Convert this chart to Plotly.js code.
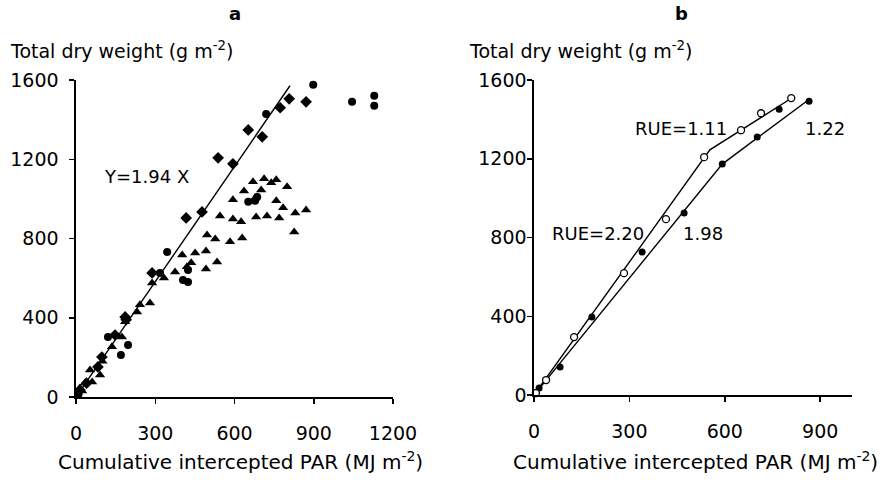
<!DOCTYPE html>
<html>
<head>
<meta charset="utf-8">
<script src="https://cdn.plot.ly/plotly-3.0.1.min.js"></script>
<style>html,body{margin:0;padding:0;background:#fff;}#chart{width:888px;height:482px;}</style>
</head>
<body>
<div id="chart"></div>
<script>
// ---- Panel a data ----
const aDiamondX = [652, 538, 594, 477, 417, 705, 773, 807, 871, 288, 186, 148, 98, 83, 40, 15, 190];
const aDiamondY = [1348, 1207, 1177, 934, 904, 1313, 1460, 1505, 1490, 626, 404, 313, 202, 152, 70, 35, 390];

const aCircleX = [898, 1045, 1129, 1129, 720, 652, 678, 686, 345, 424, 405, 424, 318, 121, 197, 170, 10];
const aCircleY = [1576, 1490, 1520, 1470, 1429, 985, 990, 1010, 732, 641, 591, 581, 626, 303, 263, 212, 15];

const aTriX = [670, 712, 739, 758, 799, 636, 701, 594, 758, 678, 784, 830, 871, 682, 723, 769, 594, 625, 826, 629, 583, 545, 496, 527, 492, 534, 492, 451, 402, 436, 420, 375, 333, 288, 280, 242, 231, 174, 136, 53, 91, 61, 34, 15, 23, 186, 100];
const aTriY = [1086, 1101, 1081, 1096, 1061, 1040, 1045, 995, 990, 1005, 955, 929, 944, 909, 914, 904, 899, 884, 833, 803, 783, 914, 818, 798, 737, 682, 646, 727, 717, 677, 657, 631, 601, 576, 475, 465, 429, 303, 253, 136, 111, 76, 71, 45, 30, 380, 180];

const aRegX = [0, 810];
const aRegY = [0, 1571];

const aXTicks = [0, 300, 600, 900, 1200];
const aYTicks = [0, 400, 800, 1200, 1600];

// ---- Panel b data ----
const bOpenX = [6, 38, 126, 283, 415, 535, 651, 714, 809];
const bOpenY = [10, 76, 294, 619, 893, 1208, 1345, 1431, 1508];
const bFilledX = [16, 82, 182, 340, 472, 592, 702, 771, 865];
const bFilledY = [36, 142, 396, 726, 924, 1173, 1310, 1452, 1492];

const bOpenLineX = [0, 553, 812];
const bOpenLineY = [0, 1245, 1510];
const bFilledLineX = [0, 592, 868];
const bFilledLineY = [0, 1173, 1505];

const bXTicks = [0, 300, 600, 900];
const bYTicks = [0, 400, 800, 1200, 1600];

const FONT = 'DejaVu Sans, Liberation Sans, Arial, sans-serif';

const traces = [
  {x: aRegX, y: aRegY, xaxis: 'x', yaxis: 'y', mode: 'lines', line: {color: '#000', width: 1.4}, cliponaxis: false},
  {x: aTriX, y: aTriY, xaxis: 'x', yaxis: 'y', mode: 'markers', marker: {symbol: 'triangle-up', size: 9, color: '#000'}, cliponaxis: false},
  {x: aDiamondX, y: aDiamondY, xaxis: 'x', yaxis: 'y', mode: 'markers', marker: {symbol: 'diamond', size: 9, color: '#000'}, cliponaxis: false},
  {x: aCircleX, y: aCircleY, xaxis: 'x', yaxis: 'y', mode: 'markers', marker: {symbol: 'circle', size: 8, color: '#000'}, cliponaxis: false},
  {x: bOpenLineX, y: bOpenLineY, xaxis: 'x2', yaxis: 'y2', mode: 'lines', line: {color: '#000', width: 1.4}, cliponaxis: false},
  {x: bFilledLineX, y: bFilledLineY, xaxis: 'x2', yaxis: 'y2', mode: 'lines', line: {color: '#000', width: 1.4}, cliponaxis: false},
  {x: bFilledX, y: bFilledY, xaxis: 'x2', yaxis: 'y2', mode: 'markers', marker: {symbol: 'circle', size: 7, color: '#000'}, cliponaxis: false},
  {x: bOpenX, y: bOpenY, xaxis: 'x2', yaxis: 'y2', mode: 'markers', marker: {symbol: 'circle', size: 7, color: '#fff', line: {color: '#000', width: 1.3}}, cliponaxis: false}
];

const tickFont = {family: FONT, size: 19, color: '#000'};
const aXDom = [76/888, 393/888];
const aYDom = [1 - 397/482, 1 - 80/482];
const bXDom = [534/888, 852/888];
const bYDom = [1 - 395/482, 1 - 80/482];

function baseX(dom, range, ticks, anchor) {
  return {domain: dom, range: range, anchor: anchor, tickmode: 'array', tickvals: ticks, ticktext: ticks.map(String),
    showline: true, linecolor: '#000', linewidth: 1.6, ticks: 'outside', ticklen: 5, tickwidth: 1.5, tickcolor: '#000',
    showgrid: false, zeroline: false, tickfont: tickFont, ticklabelstandoff: 14, fixedrange: true};
}
function baseY(dom, range, ticks, anchor, standoff) {
  return {domain: dom, range: range, anchor: anchor, tickmode: 'array', tickvals: ticks, ticktext: ticks.map(String),
    showline: true, linecolor: '#000', linewidth: 1.6, ticks: 'outside', ticklen: 5, tickwidth: 1.5, tickcolor: '#000',
    showgrid: false, zeroline: false, tickfont: tickFont, ticklabelstandoff: standoff, fixedrange: true};
}
function overlayAx(over, anchor, range, ticks) {
  return {overlaying: over, anchor: anchor, range: range, tickmode: 'array', tickvals: ticks, showticklabels: false,
    showline: false, ticks: 'inside', ticklen: 5, tickwidth: 1.5, tickcolor: '#000', showgrid: false, zeroline: false, fixedrange: true};
}

const layout = {
  width: 888, height: 482,
  margin: {l: 0, r: 0, t: 0, b: 0},
  paper_bgcolor: '#fff', plot_bgcolor: 'rgba(0,0,0,0)',
  showlegend: false,
  font: {family: FONT, color: '#000'},
  xaxis: baseX(aXDom, [0, 1200], aXTicks, 'y'),
  yaxis: baseY(aYDom, [0, 1600], aYTicks, 'x', 7),
  xaxis2: baseX(bXDom, [0, 1000], bXTicks, 'y2'),
  yaxis2: baseY(bYDom, [0, 1600], bYTicks, 'x2', -3),
  xaxis3: overlayAx('x', 'y', [0, 1200], aXTicks),
  yaxis3: overlayAx('y', 'x', [0, 1600], aYTicks),
  xaxis4: overlayAx('x2', 'y2', [0, 1000], bXTicks),
  yaxis4: overlayAx('y2', 'x2', [0, 1600], bYTicks),
  annotations: [
    {text: '<b>a</b>', xref: 'paper', yref: 'paper', x: 235/888, y: 1 - 13/482, xanchor: 'center', yanchor: 'middle', showarrow: false, font: {family: FONT, size: 18}},
    {text: '<b>b</b>', xref: 'paper', yref: 'paper', x: 681/888, y: 1 - 13/482, xanchor: 'center', yanchor: 'middle', showarrow: false, font: {family: FONT, size: 18}},
    {text: 'Total dry weight (g m<sup>-2</sup>)', xref: 'paper', yref: 'paper', x: 8/888, y: 1 - 50/482, xanchor: 'left', yanchor: 'middle', showarrow: false, font: {family: FONT, size: 19}},
    {text: 'Total dry weight (g m<sup>-2</sup>)', xref: 'paper', yref: 'paper', x: 467/888, y: 1 - 50/482, xanchor: 'left', yanchor: 'middle', showarrow: false, font: {family: FONT, size: 19}},
    {text: 'Cumulative intercepted PAR (MJ m<sup>-2</sup>)', xref: 'paper', yref: 'paper', x: 240/888, y: 1 - 461/482, xanchor: 'center', yanchor: 'middle', showarrow: false, font: {family: FONT, size: 20}},
    {text: 'Cumulative intercepted PAR (MJ m<sup>-2</sup>)', xref: 'paper', yref: 'paper', x: 695/888, y: 1 - 461/482, xanchor: 'center', yanchor: 'middle', showarrow: false, font: {family: FONT, size: 20}},
    {text: 'Y=1.94 X', xref: 'x', yref: 'y', x: 265, y: 1111, xanchor: 'center', yanchor: 'middle', showarrow: false, font: {family: FONT, size: 18}},
    {text: 'RUE=1.11', xref: 'x2', yref: 'y2', x: 463, y: 1355, xanchor: 'center', yanchor: 'middle', showarrow: false, font: {family: FONT, size: 18}},
    {text: '1.22', xref: 'x2', yref: 'y2', x: 916, y: 1355, xanchor: 'center', yanchor: 'middle', showarrow: false, font: {family: FONT, size: 18}},
    {text: 'RUE=2.20', xref: 'x2', yref: 'y2', x: 200, y: 822, xanchor: 'center', yanchor: 'middle', showarrow: false, font: {family: FONT, size: 18}},
    {text: '1.98', xref: 'x2', yref: 'y2', x: 530, y: 822, xanchor: 'center', yanchor: 'middle', showarrow: false, font: {family: FONT, size: 18}}
  ]
};

Plotly.newPlot('chart', traces, layout, {displayModeBar: false, staticPlot: true});
</script>
</body>
</html>
